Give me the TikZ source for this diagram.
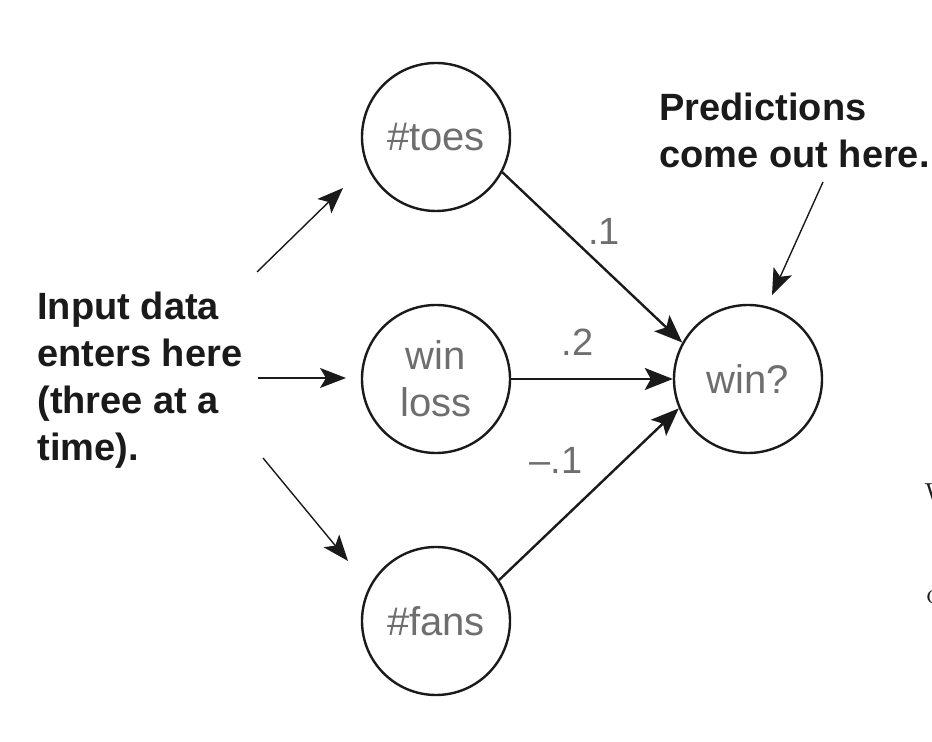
\documentclass[tikz,border=0pt]{standalone}
\usepackage{fontspec}
\newfontfamily\diagfont{Liberation Sans}
\usepackage{xcolor}
\usetikzlibrary{arrows.meta,positioning}
\definecolor{ink}{HTML}{1A1A1A}
\definecolor{inkgray}{HTML}{6E6E6E}

\begin{document}
\begin{tikzpicture}[
    x=0.5pt, y=-0.5pt,
    neuron/.style={circle, draw=ink, line width=1.2pt, minimum size=74pt,
        inner sep=0pt, align=center, text=inkgray,
        font=\diagfont\fontsize{20}{23.5}\selectfont},
    note/.style={align=left, inner sep=0pt, text=ink,
        font=\diagfont\bfseries\fontsize{19}{23.5}\selectfont},
    weight/.style={inner sep=1pt, text=inkgray,
        font=\diagfont\fontsize{19}{22}\selectfont},
    pagetext/.style={inner sep=0pt, text=ink, font=\fontsize{14.5}{17}\selectfont},
    synapse/.style={-{Stealth[length=14pt, width=11pt, inset=3pt]},
        line width=1.2pt, draw=ink},
    feed/.style={-{Stealth[length=13pt, width=10pt, inset=3pt]},
        line width=0.7pt, draw=ink}
]
    \useasboundingbox (0,0) rectangle (932,742);

    % input layer and output
    \node[neuron] (toes) at (436,137) {\#toes};
    \node[neuron, below=45.8pt of toes] (winloss) {win\\loss};
    \node[neuron, below=45.8pt of winloss] (fans) {\#fans};
    \node[neuron, right=80.8pt of winloss] (win) {win?};

    % notes
    \node[note, anchor=west] (input) at (37,380) {Input data\\enters here\\(three at a\\time).};
    \node[note, anchor=west] (pred) at (659,130) {Predictions\\come out here.};

    % text of the page, cut at the edge
    \node[pagetext, anchor=base west] (pagew) at (924,504) {W};
    \node[pagetext, anchor=base west] (pagec) at (926,604) {c};

    % weighted connections
    \draw[synapse] (toes.-28) -- node[weight, pos=0.46, anchor=south west, yshift=1.5pt] {.1} (win.151);
    \draw[synapse] (winloss) -- node[weight, pos=0.41, anchor=south, yshift=10pt] {.2} (win);
    \draw[synapse] (fans.33.5) -- node[weight, pos=0.48, anchor=south east, yshift=10.5pt] {\textendash.1} (win.-157);

    % incoming data and outgoing prediction
    \coordinate (feedA) at (257,272);
    \coordinate (feedAtip) at (343,188);
    \coordinate (feedB) at (258,378);
    \coordinate (feedBtip) at (346,378);
    \coordinate (feedC) at (263,458);
    \coordinate (feedCtip) at (348,561);
    \coordinate (predfrom) at (823,182);
    \coordinate (predtip) at (772,295);
    \draw[feed] (feedA) -- (feedAtip);
    \draw[feed] (feedB) -- (feedBtip);
    \draw[feed] (feedC) -- (feedCtip);
    \draw[feed] (predfrom) -- (predtip);
\end{tikzpicture}
\end{document}
